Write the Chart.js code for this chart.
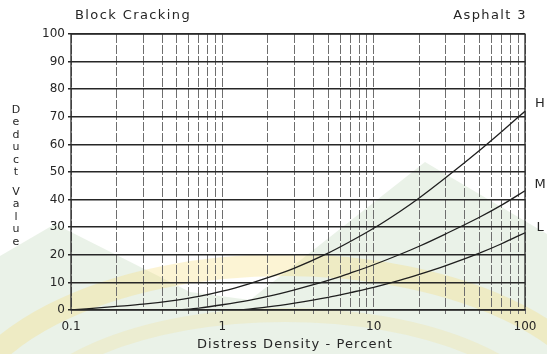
<!DOCTYPE html>
<html>
<head>
<meta charset="utf-8">
<script src="https://cdn.jsdelivr.net/npm/chart.js@4.4.1/dist/chart.umd.min.js"></script>
<style>
  html, body { margin: 0; padding: 0; background: #ffffff; }
  #wrap { width: 547px; height: 354px; position: relative; }
</style>
</head>
<body>
<div id="wrap"><canvas id="c" width="547" height="354"></canvas></div>
<script>
// ---- data ----
const chartTitle = "Block Cracking";
const chartSubtitle = "Asphalt 3";
const xAxisTitle = "Distress Density - Percent";
const yAxisTitle = "Deduct Value";

// series H (high severity)
const hDensity = [0.1, 0.2, 0.3, 0.5, 0.7, 1, 1.5, 2, 3, 5, 7, 10, 15, 20, 30, 50, 70, 100];
const hDeduct  = [0, 1.3, 2.1, 3.6, 4.9, 6.8, 9.5, 11.7, 15.2, 20.6, 24.8, 29.6, 35.8, 40.6, 48, 57.8, 64.6, 72];
// series M (medium severity)
const mDensity = [0.52, 0.7, 1, 1.5, 2, 3, 5, 7, 10, 15, 20, 30, 50, 70, 100];
const mDeduct  = [0, 0.7, 1.9, 3.5, 4.9, 7.3, 10.7, 13.4, 16.4, 20.2, 23.1, 27.6, 33.6, 38, 43.2];
// series L (low severity)
const lDensity = [1.3, 2, 3, 5, 7, 10, 15, 20, 30, 50, 70, 100];
const lDeduct  = [0, 1.1, 2.5, 4.6, 6.3, 8.2, 10.8, 12.9, 16.1, 20.6, 24.0, 28.0];

const seriesNames = ["H", "M", "L"];

// tick values
const xGridValues = [0.1,0.2,0.3,0.4,0.5,0.6,0.7,0.8,0.9,1,2,3,4,5,6,7,8,9,10,20,30,40,50,60,70,80,90,100];
const xLabelValues = [0.1, 1, 10, 100];
const yTickValues = [0,10,20,30,40,50,60,70,80,90,100];

const toPoints = (xs, ys) => xs.map((x, i) => ({ x: x, y: ys[i] }));

const FONT = "'DejaVu Sans', 'Liberation Sans', sans-serif";
const INK = "#262626";

const lineStyle = {
  borderColor: "#1e1e1e",
  borderWidth: 1.3,
  pointRadius: 0,
  fill: false,
  tension: 0.4,
  cubicInterpolationMode: "monotone"
};

const decor = {
  id: "decor",
  beforeDraw(chart) {
    const ctx = chart.ctx;
    ctx.save();
    ctx.fillStyle = "#ffffff";
    ctx.fillRect(0, 0, chart.width, chart.height);
    // faint watermark (background logo)
    ctx.fillStyle = "rgba(190, 216, 182, 0.32)";
    ctx.beginPath();
    ctx.moveTo(0, 256); ctx.lineTo(55, 224); ctx.lineTo(190, 292);
    ctx.lineTo(250, 300); ctx.lineTo(425, 162); ctx.lineTo(547, 234);
    ctx.lineTo(547, 354); ctx.lineTo(0, 354); ctx.closePath();
    ctx.fill();
    ctx.strokeStyle = "rgba(245, 220, 120, 0.32)";
    ctx.lineWidth = 22;
    ctx.beginPath();
    ctx.ellipse(285, 435, 330, 170, 0, Math.PI, 2 * Math.PI);
    ctx.stroke();
    ctx.strokeStyle = "rgba(245, 225, 140, 0.25)";
    ctx.lineWidth = 14;
    ctx.beginPath();
    ctx.ellipse(285, 435, 270, 120, 0, Math.PI, 2 * Math.PI);
    ctx.stroke();
    ctx.restore();
  },
  afterDraw(chart) {
    const ctx = chart.ctx;
    const a = chart.chartArea;
    ctx.save();
    // plot frame
    ctx.strokeStyle = "#2a2a2a";
    ctx.lineWidth = 1.3;
    ctx.strokeRect(a.left, a.top, a.right - a.left, a.bottom - a.top);

    ctx.fillStyle = INK;
    ctx.textBaseline = "middle";
    try { ctx.letterSpacing = "1.4px"; } catch (e) {}
    ctx.font = "13px " + FONT;
    ctx.textAlign = "left";
    ctx.fillText(chartTitle, 75, 16);
    ctx.textAlign = "right";
    ctx.fillText(chartSubtitle, 527, 16);

    try { ctx.letterSpacing = "1.1px"; } catch (e) {}
    ctx.font = "13px " + FONT;
    ctx.textAlign = "center";
    ctx.fillText(xAxisTitle, 295, 345);

    try { ctx.letterSpacing = "0px"; } catch (e) {}
    // stacked vertical y title
    ctx.font = "11px " + FONT;
    const letters = yAxisTitle.split("");
    let y = 110;
    letters.forEach(ch => {
      if (ch === " ") { y += 7; return; }
      ctx.fillText(ch, 16, y);
      y += 12.5;
    });

    // curve labels
    const ys = chart.scales.y;
    ctx.font = "13px " + FONT;
    ctx.textAlign = "center";
    const ends = [hDeduct[hDeduct.length - 1], mDeduct[mDeduct.length - 1], lDeduct[lDeduct.length - 1]];
    const offs = [-8, -6, -5];
    seriesNames.forEach((n, i) => {
      ctx.fillText(n, 540, ys.getPixelForValue(ends[i]) + offs[i]);
    });
    ctx.restore();
  }
};

new Chart(document.getElementById("c"), {
  type: "line",
  data: {
    datasets: [
      Object.assign({ label: seriesNames[0], data: toPoints(hDensity, hDeduct) }, lineStyle),
      Object.assign({ label: seriesNames[1], data: toPoints(mDensity, mDeduct) }, lineStyle),
      Object.assign({ label: seriesNames[2], data: toPoints(lDensity, lDeduct) }, lineStyle)
    ]
  },
  options: {
    responsive: false,
    animation: false,
    devicePixelRatio: 1,
    layout: { padding: { left: 0, right: 22, top: 34, bottom: 0 } },
    plugins: { legend: { display: false }, tooltip: { enabled: false }, title: { display: false } },
    scales: {
      x: {
        type: "logarithmic",
        min: 0.1,
        max: 100,
        afterBuildTicks(scale) { scale.ticks = xGridValues.map(v => ({ value: v })); },
        afterFit(scale) { scale.height = 44; },
        ticks: {
          autoSkip: false,
          maxRotation: 0,
          padding: 6,
          color: INK,
          font: { family: FONT, size: 12 },
          callback(value) { return xLabelValues.includes(Number(value)) ? String(value) : ""; }
        },
        grid: { color: "#6e6e6e", lineWidth: 1, tickLength: 4, drawTicks: true },
        border: { display: false, dash: [9, 2] }
      },
      y: {
        type: "linear",
        min: 0,
        max: 100,
        afterBuildTicks(scale) { scale.ticks = yTickValues.map(v => ({ value: v })); },
        afterFit(scale) { scale.width = 71; },
        ticks: {
          padding: 3,
          color: INK,
          font: { family: FONT, size: 12 }
        },
        grid: { color: "#262626", lineWidth: 1.5, tickLength: 3, drawTicks: true },
        border: { display: false }
      }
    }
  },
  plugins: [decor]
});
</script>
</body>
</html>
